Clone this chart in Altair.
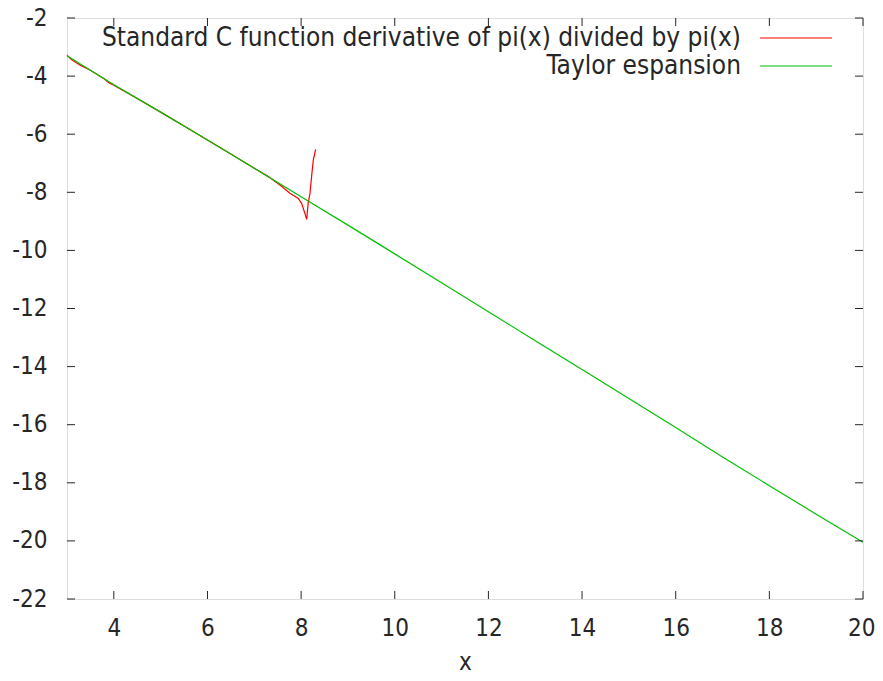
import altair as alt
import pandas as pd

# Red series: "Standard C function derivative of pi(x) divided by pi(x)"
red_x = [3.0, 3.1, 3.2, 3.3, 3.5, 3.8, 3.9, 4.0, 4.5, 5.0, 5.5, 6.0, 6.5, 7.0, 7.3,
         7.59, 7.76, 7.94, 8.01, 8.08, 8.12, 8.15, 8.19, 8.23, 8.26, 8.31]
red_y = [-3.28, -3.44, -3.54, -3.64, -3.80, -4.10, -4.24, -4.31, -4.77, -5.24, -5.72,
         -6.20, -6.68, -7.17, -7.46, -7.80, -8.03, -8.21, -8.38, -8.72, -8.93, -8.38,
         -8.03, -7.35, -6.89, -6.52]

# Green series: "Taylor espansion"
green_x = [3, 4, 5, 6, 7, 8, 9, 10, 11, 12, 13, 14, 15, 16, 17, 18, 19, 20]
green_y = [-3.30, -4.30, -5.24, -6.20, -7.17, -8.15, -9.13, -10.12, -11.11, -12.11,
           -13.11, -14.10, -15.10, -16.10, -17.11, -18.10, -19.08, -20.05]

x_ticks = [4, 6, 8, 10, 12, 14, 16, 18, 20]
y_ticks = [-22, -20, -18, -16, -14, -12, -10, -8, -6, -4, -2]

series_names = ["Standard C function derivative of pi(x) divided by pi(x)", "Taylor espansion"]
series_colors = ["#ff0000", "#00c000"]

W, H = 796, 581
FONT = "DejaVu Sans Condensed, DejaVu Sans"
FS = 26
LFS = 24
TXT = "#262626"

red_df = pd.DataFrame({"x": red_x, "y": red_y}).reset_index()
green_df = pd.DataFrame({"x": green_x, "y": green_y})
xt_df = pd.DataFrame({"x": x_ticks})
yt_df = pd.DataFrame({"y": y_ticks})

xscale = alt.Scale(domain=[3, 20], nice=False, zero=False)
yscale = alt.Scale(domain=[-22, -2], nice=False, zero=False)

xaxis = alt.Axis(values=x_ticks, tickSize=0, grid=False, domain=False,
                 labelFont=FONT, labelFontSize=LFS, labelColor=TXT, labelPadding=17,
                 labelExpr="'' + datum.value",
                 title="x", titleFont=FONT, titleFontSize=LFS, titleFontWeight="normal",
                 titleColor=TXT, titlePadding=10, labelFlush=True, labelFlushOffset=12)
yaxis = alt.Axis(values=y_ticks, tickSize=0, grid=False, domain=False,
                 labelFont=FONT, labelFontSize=LFS, labelColor=TXT, labelPadding=20,
                 labelExpr="'' + datum.value",
                 title=None, labelFlush=False)

red = alt.Chart(red_df).mark_line(color=series_colors[0], strokeWidth=1.2).encode(
    x=alt.X("x:Q", scale=xscale, axis=xaxis),
    y=alt.Y("y:Q", scale=yscale, axis=yaxis),
    order=alt.Order("index:Q"),
)
green = alt.Chart(green_df).mark_line(color=series_colors[1], strokeWidth=1.2).encode(
    x="x:Q", y="y:Q")

TL = 8
tick_color = "#262626"
bottom_ticks = alt.Chart(xt_df).mark_rule(color=tick_color, strokeWidth=1).encode(
    x="x:Q", y=alt.value(H), y2=alt.value(H - TL))
top_ticks = alt.Chart(xt_df).mark_rule(color=tick_color, strokeWidth=1).encode(
    x="x:Q", y=alt.value(0), y2=alt.value(TL))
left_ticks = alt.Chart(yt_df).mark_rule(color=tick_color, strokeWidth=1).encode(
    y="y:Q", x=alt.value(0), x2=alt.value(TL))
right_ticks = alt.Chart(yt_df).mark_rule(color=tick_color, strokeWidth=1).encode(
    y="y:Q", x=alt.value(W), x2=alt.value(W - TL))

legend_layers = []
row_y = [20, 48]
for name, color, ry in zip(series_names, series_colors, row_y):
    ldf = pd.DataFrame({"name": [name]})
    legend_layers.append(
        alt.Chart(ldf).mark_text(align="right", baseline="middle", font=FONT,
                                 fontSize=FS, color=TXT).encode(
            text="name:N", x=alt.value(674), y=alt.value(ry)))
    legend_layers.append(
        alt.Chart(ldf).mark_rule(color=color, strokeWidth=1.2).encode(
            x=alt.value(693), x2=alt.value(765), y=alt.value(ry)))

chart = alt.layer(red, green, bottom_ticks, top_ticks, left_ticks, right_ticks,
                  *legend_layers).properties(
    width=W, height=H,
    padding={"left": 59, "top": 10, "right": 12, "bottom": 74},
    autosize=alt.AutoSizeParams(type="none"),
).configure_view(stroke="#262626", strokeWidth=1.5).configure(background="white")

chart.save("out.html", embed_options={"renderer": "svg", "actions": False})
